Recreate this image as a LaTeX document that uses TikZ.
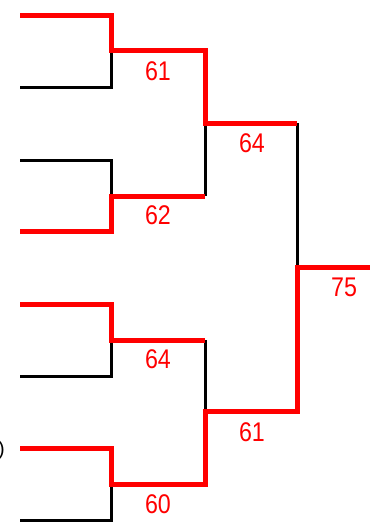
\documentclass[tikz,border=0pt]{standalone}
\usepackage{fontspec}
\setmainfont{Liberation Sans}
\newfontfamily\scorefont[FakeStretch=0.86]{Liberation Sans}
\definecolor{winred}{HTML}{FF0000}

\begin{document}
\begin{tikzpicture}[x=1pt, y=-1pt,
    loser/.style={draw=black, line width=3pt},
    winner/.style={draw=winred, line width=5pt},
    score/.style={text=winred, font=\fontsize{27}{27}\selectfont\scorefont, inner sep=0pt}]
    \useasboundingbox (0,0) rectangle (370,522);

    % entries
    \coordinate (p1) at (20,15);
    \coordinate (p2) at (20,87);
    \coordinate (p3) at (20,160);
    \coordinate (p4) at (20,231);
    \coordinate (p5) at (20,304);
    \coordinate (p6) at (20,376);
    \coordinate (p7) at (20,448);
    \coordinate (p8) at (20,520);

    % matches
    \coordinate (m1) at (111,50);
    \coordinate (m2) at (111,196);
    \coordinate (m3) at (111,340);
    \coordinate (m4) at (111,484);
    \coordinate (s1) at (205,123);
    \coordinate (s2) at (205,411);
    \coordinate (fin) at (297,267);
    \coordinate (champ) at (370,267);

    % beaten lines
    \draw[loser] (p2) -| (m1);
    \draw[loser] (p3) -| (m2);
    \draw[loser] (p6) -| (m3);
    \draw[loser] (p8) -| (m4);
    \draw[loser] (s1 |- m2) -- (s1);
    \draw[loser] (s2 |- m3) -- (s2);
    \draw[loser] (fin |- s1) -- (fin);

    % winning lines
    \draw[winner] (p1) -| (m1) -| (s1) -- (fin |- s1);
    \draw[winner] (p4) -| (m2) -- (s1 |- m2);
    \draw[winner] (p5) -| (m3) -- (s2 |- m3);
    \draw[winner] (p7) -| (m4) -| (s2) -| (fin) -- (champ);

    % scores
    \node[score] (r1) at (158,71) {61};
    \node[score] (r2) at (158,215) {62};
    \node[score] (r3) at (158,359) {64};
    \node[score] (r4) at (158,504) {60};
    \node[score] (q1) at (252,143) {64};
    \node[score] (q2) at (252,432) {61};
    \node[score] (q3) at (344,287) {75};

    \node[anchor=east, font=\fontsize{20}{20}\selectfont, inner sep=0pt] (cut) at (5,450) {)};
\end{tikzpicture}
\end{document}
